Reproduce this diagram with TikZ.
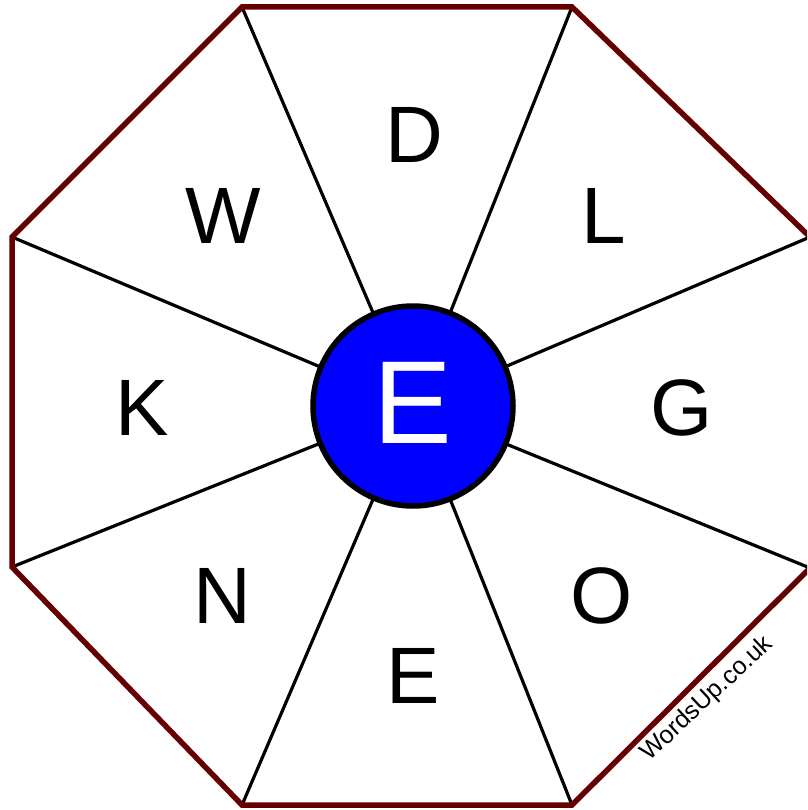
\documentclass[tikz,border=0pt]{standalone}
\usepackage{fontspec}
\setmainfont{Liberation Sans}
\definecolor{rim}{RGB}{102,0,0}
\definecolor{hub}{RGB}{0,0,255}
\tikzset{
  rimline/.style={draw=rim, line width=5.5pt, line join=miter},
  spoke/.style={draw=black, line width=3.2pt},
  hubdisk/.style={circle, fill=hub, draw=black, line width=5.5pt, minimum size=200pt, inner sep=0pt},
  letter/.style={anchor=base, inner sep=0pt, font=\fontsize{80}{80}\selectfont},
  hubletter/.style={anchor=base, inner sep=0pt, text=white, font=\fontsize{118}{118}\selectfont},
  watermark/.style={rotate=43, inner sep=0pt, font=\fontsize{25}{25}\selectfont}
}
\begin{document}
\begin{tikzpicture}[x=1pt, y=-1pt]
\useasboundingbox (0,0) rectangle (807,810);
\clip (0,0) rectangle (807,810);
\fill[white] (0,0) rectangle (807,810);
% octagon vertices
\coordinate (v1) at (242,7);
\coordinate (v2) at (572,7);
\coordinate (v3) at (810,237);
\coordinate (v4) at (810,568);
\coordinate (v5) at (572,805);
\coordinate (v6) at (242,805);
\coordinate (v7) at (12,567);
\coordinate (v8) at (12,237);
\coordinate (c) at (413,406);
\foreach \v in {v1,v2,v3,v4,v5,v6,v7,v8} \draw[spoke] (c) -- (\v);
\draw[rimline] (v1) -- (v2) -- (v3) -- (v4) -- (v5) -- (v6) -- (v7) -- (v8) -- cycle;
\node[hubdisk] (hub) at (c) {};
\node[hubletter] (lc) at (413,443) {E};
\node[letter] (ld) at (414,163) {D};
\node[letter] (ll) at (604,243) {L};
\node[letter] (lg) at (682,435) {G};
\node[letter] (lo) at (602,623) {O};
\node[letter] (le) at (413,703) {E};
\node[letter] (ln) at (222,623) {N};
\node[letter] (lk) at (142,435) {K};
\node[letter] (lw) at (223,243) {W};
\node[watermark] (wm) at (707,699) {WordsUp.co.uk};
\end{tikzpicture}
\end{document}
